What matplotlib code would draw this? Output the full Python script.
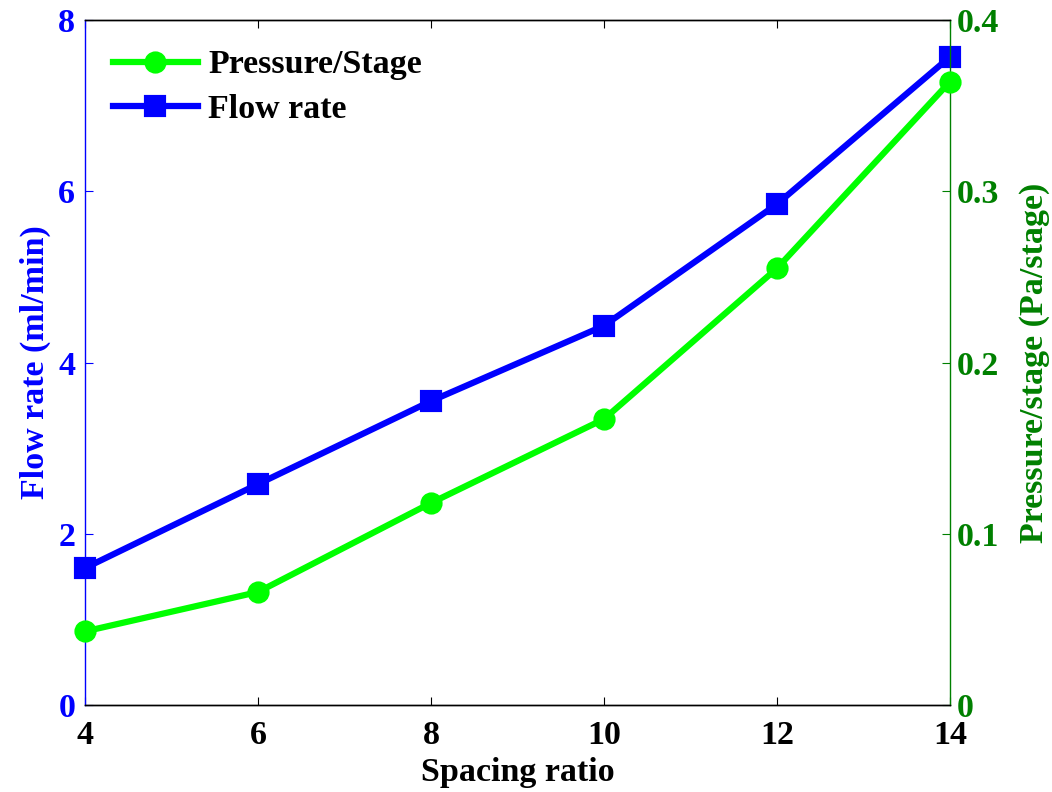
import matplotlib
matplotlib.use("Agg")
import matplotlib.pyplot as plt

spacing = [4, 6, 8, 10, 12, 14]
flow_rate = [1.60, 2.58, 3.55, 4.43, 5.85, 7.57]
pressure = [0.043, 0.066, 0.118, 0.167, 0.255, 0.364]

plt.rcParams['font.family'] = ['Liberation Serif']
plt.rcParams['font.weight'] = 'bold'
fs = 24.5

fig = plt.figure(figsize=(10.52, 7.92), dpi=100)
ax1 = fig.add_axes([0.0808, 0.1098, 0.8222, 0.8649])
ax2 = ax1.twinx()

blue = (0, 0, 1)
green_line = (0, 1, 0)
green_axis = (0, 0.5, 0)

lf, = ax1.plot(spacing, flow_rate, color=blue, lw=4.5, marker='s', ms=13, mew=3,
               label='Flow rate', zorder=3, clip_on=False)
lp, = ax2.plot(spacing, pressure, color=green_line, lw=4.5, marker='o', ms=13, mew=3,
               label='Pressure/Stage', zorder=3, clip_on=False)

ax1.set_xlim(4, 14)
ax1.set_ylim(0, 8)
ax2.set_ylim(0, 0.4)
ax1.set_xticks(spacing)
ax1.set_yticks([0, 2, 4, 6, 8])
ax2.set_yticks([0, 0.1, 0.2, 0.3, 0.4])
ax2.set_yticklabels(['0', '0.1', '0.2', '0.3', '0.4'])

ax1.tick_params(axis='x', direction='in', length=6, labelsize=fs, colors='black', top=True, pad=11)
ax1.tick_params(axis='y', direction='in', length=6, labelsize=fs, colors=blue, pad=7)
ax2.tick_params(axis='y', direction='in', length=6, labelsize=fs, colors=green_axis, pad=5)

ax1.spines['left'].set_color(blue)
ax1.spines['right'].set_visible(False)
ax2.spines['left'].set_visible(False)
ax2.spines['right'].set_color(green_axis)
ax2.spines['top'].set_color('black')
ax2.spines['bottom'].set_color('black')
for sp in list(ax1.spines.values()) + list(ax2.spines.values()):
    sp.set_linewidth(1.0)

ax1.set_xlabel('Spacing ratio', fontsize=fs, fontweight='bold', labelpad=4)
ax1.set_ylabel('Flow rate (ml/min)', fontsize=fs, fontweight='bold', color=blue, labelpad=5)
ax2.set_ylabel('Pressure/stage (Pa/stage)', fontsize=fs, fontweight='bold', color=green_axis, labelpad=14)

leg = ax2.legend([lp, lf], ['Pressure/Stage', 'Flow rate'], loc='upper left', frameon=False,
                 fontsize=fs, handlelength=2.5, bbox_to_anchor=(0.032, 0.957), borderaxespad=0,
                 borderpad=0, labelspacing=0.4, handletextpad=0.3)

fig.savefig('out.png', dpi=100)
